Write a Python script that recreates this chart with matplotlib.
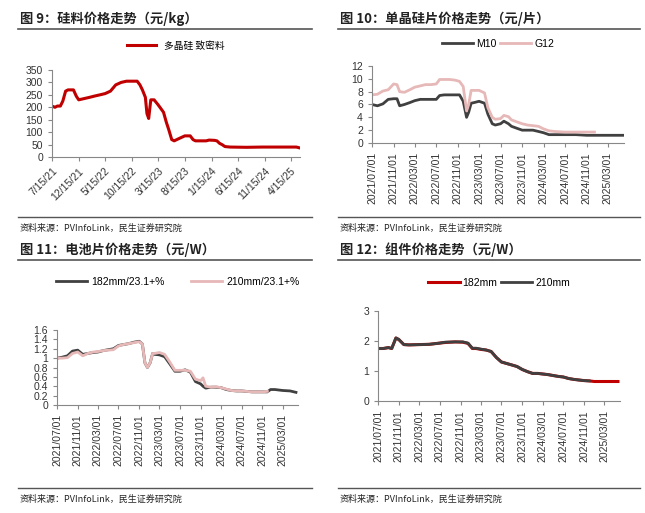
import matplotlib
matplotlib.use("Agg")
import matplotlib.pyplot as plt
import pandas as pd

plt.rcParams['font.family'] = ['Liberation Sans', 'Noto Sans CJK SC', 'DejaVu Sans']

# --- fig 9: polysilicon (yuan/kg)
poly_dates = ["2021-07-15", "2021-08-01", "2021-08-15", "2021-09-01", "2021-09-15", "2021-10-01",
              "2021-10-15", "2021-11-15", "2021-12-01", "2021-12-15", "2022-01-15", "2022-02-15",
              "2022-03-15", "2022-04-15", "2022-05-15", "2022-06-15", "2022-07-15", "2022-08-15",
              "2022-09-15", "2022-10-15", "2022-11-15", "2022-12-01", "2022-12-15", "2023-01-01",
              "2023-01-10", "2023-01-20", "2023-02-01", "2023-02-20", "2023-03-15", "2023-04-15",
              "2023-05-01", "2023-05-15", "2023-06-01", "2023-06-15", "2023-07-15", "2023-08-15",
              "2023-09-15", "2023-10-01", "2023-10-15", "2023-11-15", "2023-12-15", "2024-01-01",
              "2024-02-01", "2024-02-15", "2024-03-01", "2024-03-15", "2024-04-01", "2024-05-01",
              "2024-08-01", "2024-11-01", "2025-02-01", "2025-05-15", "2025-06-01"]
poly_vals = [205, 200, 205, 205, 225, 265, 270, 270, 245, 230, 235, 240, 245, 250, 255, 265, 290,
             300, 305, 305, 305, 290, 270, 240, 175, 155, 230, 230, 210, 180, 140, 110, 70, 65,
             75, 85, 85, 70, 65, 65, 65, 68, 67, 65, 55, 50, 42, 40, 39, 40, 40, 40, 37]
poly_ticks = ["2021-07-15", "2021-12-15", "2022-05-15", "2022-10-15", "2023-03-15", "2023-08-15",
              "2024-01-15", "2024-06-15", "2024-11-15", "2025-04-15"]

# --- fig 10: wafers (yuan/piece)
wafer_dates = ["2021-07-01", "2021-08-01", "2021-09-01", "2021-10-01", "2021-11-01", "2021-11-20",
               "2021-12-05", "2022-01-01", "2022-02-01", "2022-03-01", "2022-04-01", "2022-05-01",
               "2022-06-01", "2022-07-01", "2022-07-20", "2022-08-15", "2022-09-15", "2022-10-15",
               "2022-11-10", "2022-12-01", "2022-12-20", "2023-01-01", "2023-01-15", "2023-02-01",
               "2023-03-01", "2023-04-01", "2023-04-20", "2023-05-15", "2023-06-01", "2023-07-01",
               "2023-07-20", "2023-08-15", "2023-09-01", "2023-10-01", "2023-11-01", "2023-12-01",
               "2024-01-01", "2024-02-01", "2024-03-01", "2024-04-01", "2024-05-01", "2024-07-01",
               "2024-09-01", "2024-11-01", "2024-12-15", "2025-02-01", "2025-04-01", "2025-06-01"]
m10 = [6.0, 5.8, 6.1, 6.8, 6.9, 6.9, 5.8, 6.0, 6.3, 6.6, 6.8, 6.8, 6.8, 6.8, 7.4, 7.5, 7.5, 7.5,
       7.5, 6.5, 4.0, 4.8, 6.2, 6.3, 6.5, 6.2, 4.5, 3.0, 2.8, 3.0, 3.4, 3.0, 2.6, 2.3, 2.0, 2.0,
       2.0, 1.8, 1.6, 1.3, 1.3, 1.3, 1.3, 1.2, 1.2, 1.2, 1.2, 1.2]
g12 = [7.5, 7.6, 8.1, 8.3, 9.2, 9.1, 8.0, 7.9, 8.3, 8.7, 8.9, 9.1, 9.1, 9.2, 9.9, 9.9, 9.9, 9.8,
       9.6, 8.8, 5.0, 6.0, 8.2, 8.2, 8.2, 7.8, 5.5, 4.0, 3.7, 3.8, 4.3, 4.1, 3.6, 3.3, 3.0, 2.8,
       2.7, 2.6, 2.2, 1.9, 1.8, 1.7, 1.7, 1.7, 1.7, None, None, None]

# --- fig 11: cells (yuan/W)
cell_dates = ["2021-07-01", "2021-08-01", "2021-09-01", "2021-10-01", "2021-11-01", "2021-12-01",
              "2022-01-01", "2022-02-01", "2022-03-01", "2022-04-01", "2022-05-01", "2022-06-01",
              "2022-07-01", "2022-08-01", "2022-09-01", "2022-10-01", "2022-11-01", "2022-11-20",
              "2022-12-05", "2022-12-20", "2023-01-05", "2023-01-20", "2023-02-01", "2023-03-01",
              "2023-04-01", "2023-05-01", "2023-06-01", "2023-07-01", "2023-08-01", "2023-09-01",
              "2023-10-01", "2023-11-01", "2023-11-15", "2023-12-01", "2024-01-01", "2024-02-01",
              "2024-03-01", "2024-04-01", "2024-05-01", "2024-06-01", "2024-07-01", "2024-08-01",
              "2024-09-01", "2024-10-01", "2024-11-01", "2024-12-01", "2024-12-20", "2025-01-15",
              "2025-03-01", "2025-04-15", "2025-05-20"]
c182 = [1.0, 1.02, 1.05, 1.15, 1.17, 1.08, 1.1, 1.12, 1.13, 1.16, 1.18, 1.2, 1.27, 1.29, 1.31,
        1.34, 1.36, 1.3, 0.9, 0.8, 0.9, 1.1, 1.08, 1.07, 1.03, 0.88, 0.72, 0.72, 0.75, 0.7, 0.5,
        0.45, 0.4, 0.36, 0.38, 0.38, 0.37, 0.33, 0.31, 0.30, 0.30, 0.29, 0.28, 0.28, 0.28, 0.28,
        0.33, 0.33, 0.31, 0.30, 0.27]
c210 = [1.0, 1.0, 1.01, 1.1, 1.13, 1.05, 1.1, 1.13, 1.14, 1.16, 1.17, 1.18, 1.26, 1.29, 1.31,
        1.33, 1.35, 1.3, 0.9, 0.8, 0.9, 1.1, 1.1, 1.12, 1.08, 0.92, 0.74, 0.74, 0.74, 0.72, 0.55,
        0.52, 0.58, 0.4, 0.38, 0.39, 0.37, 0.34, 0.31, 0.30, 0.30, 0.29, 0.28, 0.28, 0.28, 0.29,
        None, None, None, None, None]

# --- fig 12: modules (yuan/W)
mod_dates = ["2021-07-01", "2021-08-01", "2021-09-01", "2021-09-20", "2021-10-15", "2021-11-01",
             "2021-12-01", "2022-01-01", "2022-03-01", "2022-05-01", "2022-07-01", "2022-08-01",
             "2022-10-01", "2022-11-15", "2022-12-15", "2023-01-10", "2023-02-01", "2023-03-01",
             "2023-04-01", "2023-05-01", "2023-06-01", "2023-07-01", "2023-08-01", "2023-09-01",
             "2023-10-01", "2023-11-01", "2023-12-01", "2024-01-01", "2024-02-01", "2024-03-01",
             "2024-04-01", "2024-05-01", "2024-06-01", "2024-07-01", "2024-08-01", "2024-09-01",
             "2024-10-01", "2024-11-01", "2024-12-01", "2025-01-01", "2025-03-01", "2025-05-20"]
m182 = [1.75, 1.75, 1.78, 1.75, 2.1, 2.05, 1.88, 1.87, 1.88, 1.89, 1.93, 1.95, 1.97, 1.96, 1.92,
        1.75, 1.75, 1.72, 1.7, 1.65, 1.45, 1.3, 1.25, 1.2, 1.15, 1.05, 0.98, 0.92, 0.92, 0.9,
        0.88, 0.85, 0.82, 0.8, 0.75, 0.72, 0.7, 0.68, 0.67, 0.65, 0.65, 0.65]
m210 = [1.75, 1.75, 1.78, 1.75, 2.1, 2.05, 1.88, 1.87, 1.88, 1.89, 1.93, 1.96, 1.97, 1.97, 1.93,
        1.76, 1.76, 1.73, 1.7, 1.65, 1.45, 1.3, 1.25, 1.2, 1.15, 1.05, 0.98, 0.92, 0.92, 0.9,
        0.88, 0.85, 0.82, 0.8, 0.75, 0.72, 0.7, 0.68, 0.67, None, None, None]

month_ticks = ["2021-07-01", "2021-11-01", "2022-03-01", "2022-07-01", "2022-11-01", "2023-03-01",
               "2023-07-01", "2023-11-01", "2024-03-01", "2024-07-01", "2024-11-01", "2025-03-01"]

RED = "#c00000"
DARK = "#404040"
PINK = "#e6b8b7"
CJK = ['Noto Sans CJK SC', 'DejaVu Sans']
W, H = 645, 513

fig = plt.figure(figsize=(6.45, 5.13), dpi=100)


def fx(px):
    return px / W


def fy(py):
    return 1 - py / H


def nan(vals):
    return [v if v is not None else float("nan") for v in vals]


def frame(x0, x1, ytitle, title, ysrc_line):
    fig.text(fx(x0 + 2), fy(ytitle), title, fontsize=9.5, fontweight="bold", va="center",
             color="#222222", family=CJK)
    fig.add_artist(plt.Line2D([fx(x0), fx(x1)], [fy(ytitle + 10)] * 2, color="#555555", lw=1.2))
    fig.add_artist(plt.Line2D([fx(x0), fx(x1)], [fy(ysrc_line)] * 2, color="#555555", lw=1.0))
    fig.text(fx(x0 + 2), fy(ysrc_line + 11), "资料来源：PVInfoLink，民生证券研究院", fontsize=6.5,
             va="center", color="#222222", family=CJK)


def make_ax(x0, x1, ytop, ybot):
    ax = fig.add_axes([fx(x0), fy(ybot), fx(x1 - x0), (ybot - ytop) / H])
    for s in ["top", "right"]:
        ax.spines[s].set_visible(False)
    ax.tick_params(labelsize=7.5, length=3, color="#888888", labelcolor="#333333")
    ax.spines["left"].set_color("#888888")
    ax.spines["bottom"].set_color("#888888")
    return ax


def month_axis(ax):
    t = pd.to_datetime(month_ticks)
    ax.set_xlim(pd.Timestamp("2021-07-01"), pd.Timestamp("2025-06-01"))
    ax.set_xticks(t)
    ax.set_xticklabels([d.strftime("%Y/%m/%d") for d in t], rotation=90)


frame(18, 312, 19, "图 9：硅料价格走势（元/kg）", 217)
frame(338, 640, 19, "图 10：单晶硅片价格走势（元/片）", 217)
frame(18, 312, 250, "图 11：电池片价格走势（元/W）", 488)
frame(338, 640, 250, "图 12：组件价格走势（元/W）", 488)

# fig 9
ax = make_ax(52, 300, 70, 157)
ax.plot(pd.to_datetime(poly_dates), poly_vals, color=RED, lw=2.2, label="多晶硅 致密料")
ax.set_ylim(0, 350)
ax.set_yticks(range(0, 351, 50))
ax.set_xlim(pd.Timestamp("2021-07-15"), pd.Timestamp("2025-06-05"))
t = pd.to_datetime(poly_ticks)
ax.set_xticks(t)
ax.set_xticklabels([f"{d.month}/{d.day}/{d.year % 100}" for d in t], rotation=45, ha="right",
                   rotation_mode="anchor")
ax.legend(loc="lower center", bbox_to_anchor=(0.5, 1.12), frameon=False, handlelength=3,
          prop={"family": CJK, "size": 7})

# fig 10
ax = make_ax(372, 624, 66, 143)
wd = pd.to_datetime(wafer_dates)
ax.plot(wd, m10, color=DARK, lw=2, label="M10")
ax.plot(wd, nan(g12), color=PINK, lw=2, label="G12")
ax.set_ylim(0, 12)
ax.set_yticks(range(0, 13, 2))
month_axis(ax)
ax.legend(loc="lower center", bbox_to_anchor=(0.5, 1.1), frameon=False, fontsize=7.5, ncol=2,
          handlelength=3, columnspacing=0.3, handletextpad=0.3)

# fig 11
ax = make_ax(57, 298, 330, 405)
cd = pd.to_datetime(cell_dates)
ax.plot(cd, c182, color=DARK, lw=2, label="182mm/23.1+%")
ax.plot(cd, nan(c210), color=PINK, lw=2, label="210mm/23.1+%")
ax.set_ylim(0, 1.6)
ax.set_yticks([0, 0.2, 0.4, 0.6, 0.8, 1, 1.2, 1.4, 1.6])
ax.set_yticklabels(["0", "0.2", "0.4", "0.6", "0.8", "1", "1.2", "1.4", "1.6"])
month_axis(ax)
ax.legend(loc="lower center", bbox_to_anchor=(0.5, 1.45), frameon=False, fontsize=7.5, ncol=2,
          handlelength=3, columnspacing=2.5, handletextpad=0.4)

# fig 12
ax = make_ax(378, 620, 311, 401)
md = pd.to_datetime(mod_dates)
ax.plot(md, m182, color=RED, lw=2.2, label="182mm")
ax.plot(md, nan(m210), color=DARK, lw=2, label="210mm")
ax.set_ylim(0, 3)
ax.set_yticks([0, 1, 2, 3])
month_axis(ax)
ax.legend(loc="lower center", bbox_to_anchor=(0.5, 1.15), frameon=False, fontsize=7.5, ncol=2,
          handlelength=3, columnspacing=0.3, handletextpad=0.3)

fig.savefig("out.png", dpi=100)
